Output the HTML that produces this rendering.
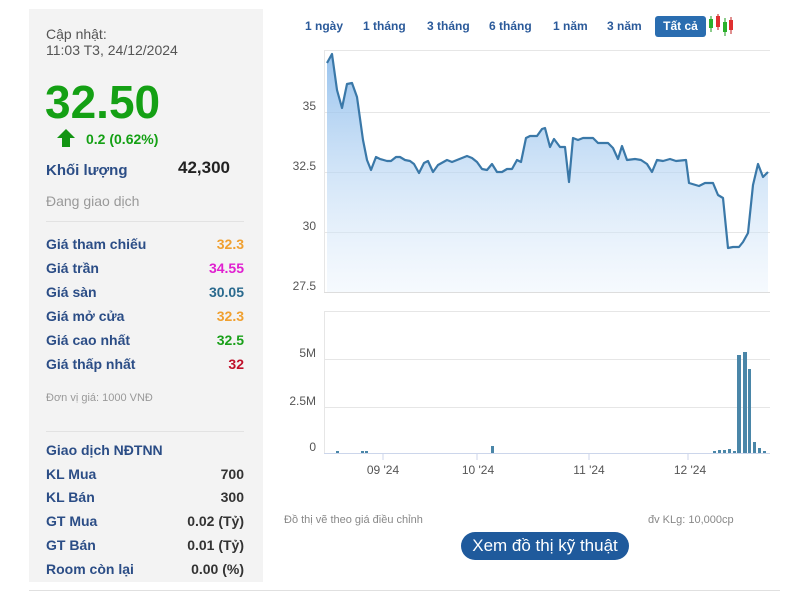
<!DOCTYPE html>
<html><head><meta charset="utf-8"><style>
body{margin:0;width:800px;height:600px;background:#fff;font-family:"Liberation Sans",sans-serif;position:relative;overflow:hidden}
.a{position:absolute;white-space:nowrap}
.p{position:absolute;left:29px;top:9px;width:234px;height:573px;background:#f3f3f3}
.l{left:46px;font-size:14px;font-weight:bold;color:#2b4d86}
.v{right:556px;font-size:14px;font-weight:bold;text-align:right}
.sep{position:absolute;left:46px;width:198px;height:1px;background:#e2e2e2}
.b{font-size:12px;font-weight:bold;color:#2b5a9a;top:19px}
</style></head><body>
<div class="p"></div>
<div class="a" style="left:46px;top:26px;font-size:14px;color:#555;line-height:16px">Cập nhật:<br>11:03 T3, 24/12/2024</div>
<div class="a" style="left:45px;top:78px;font-size:46px;font-weight:bold;color:#14a014;line-height:48px">32.50</div>
<svg class="a" style="left:56px;top:128px" width="20" height="20"><path d="M10 1 L19 10 L14 10 L14 19 L6 19 L6 10 L1 10Z" fill="#129412"/></svg>
<div class="a" style="left:86px;top:131px;font-size:14px;font-weight:bold;color:#14a014">0.2 (0.62%)</div>
<div class="a l" style="top:162px;font-size:15px">Khối lượng</div>
<div class="a" style="left:178px;top:158px;font-size:17px;font-weight:bold;color:#222">42,300</div>
<div class="a" style="left:46px;top:193px;font-size:14px;color:#999">Đang giao dịch</div>
<div class="sep" style="top:221px"></div>
<div class="a l" style="top:236px">Giá tham chiếu</div><div class="a v" style="top:236px;color:#f0a030">32.3</div>
<div class="a l" style="top:260px">Giá trần</div><div class="a v" style="top:260px;color:#e020d0">34.55</div>
<div class="a l" style="top:284px">Giá sàn</div><div class="a v" style="top:284px;color:#2a6a8e">30.05</div>
<div class="a l" style="top:308px">Giá mở cửa</div><div class="a v" style="top:308px;color:#f0a030">32.3</div>
<div class="a l" style="top:332px">Giá cao nhất</div><div class="a v" style="top:332px;color:#1aa01a">32.5</div>
<div class="a l" style="top:356px">Giá thấp nhất</div><div class="a v" style="top:356px;color:#c0102a">32</div>
<div class="a" style="left:46px;top:392px;font-size:11px;color:#999">Đơn vị giá: 1000 VNĐ</div>
<div class="sep" style="top:431px"></div>
<div class="a l" style="top:442px">Giao dịch NĐTNN</div>
<div class="a l" style="top:466px">KL Mua</div><div class="a v" style="top:466px;color:#333">700</div>
<div class="a l" style="top:489px">KL Bán</div><div class="a v" style="top:489px;color:#333">300</div>
<div class="a l" style="top:513px">GT Mua</div><div class="a v" style="top:513px;color:#333">0.02 (Tỷ)</div>
<div class="a l" style="top:537px">GT Bán</div><div class="a v" style="top:537px;color:#333">0.01 (Tỷ)</div>
<div class="a l" style="top:561px">Room còn lại</div><div class="a v" style="top:561px;color:#333">0.00 (%)</div>
<div class="a" style="left:29px;top:590px;width:751px;height:1px;background:#e0e0e0"></div>

<div class="a b" style="left:305px">1 ngày</div>
<div class="a b" style="left:363px">1 tháng</div>
<div class="a b" style="left:427px">3 tháng</div>
<div class="a b" style="left:489px">6 tháng</div>
<div class="a b" style="left:553px">1 năm</div>
<div class="a b" style="left:607px">3 năm</div>
<div class="a" style="left:655px;top:16px;width:51px;height:21px;background:#2a6db0;border-radius:3px;color:#fff;font-size:12px;font-weight:bold;text-align:center;line-height:21px">Tất cả</div>
<svg class="a" style="left:708px;top:14px" width="26" height="22">
<line x1="3" y1="2" x2="3" y2="18" stroke="#1a9a1a"/><rect x="1" y="5" width="4" height="9" fill="#2ab02a"/>
<line x1="10" y1="0" x2="10" y2="16" stroke="#c02020"/><rect x="8" y="2" width="4" height="11" fill="#e03030"/>
<line x1="17" y1="4" x2="17" y2="22" stroke="#1a9a1a"/><rect x="15" y="8" width="4" height="10" fill="#2ab02a"/>
<line x1="23" y1="3" x2="23" y2="20" stroke="#c02020"/><rect x="21" y="6" width="4" height="10" fill="#e03030"/>
</svg>

<svg class="a" style="left:0;top:0" width="800" height="600">
<defs><linearGradient id="g" x1="0" y1="0" x2="0" y2="1"><stop offset="0" stop-color="#86b8ea" stop-opacity=".85"/><stop offset="1" stop-color="#e8f2fc" stop-opacity=".4"/></linearGradient></defs>
<g stroke="#e6e6e6" stroke-width="1">
<line x1="324" y1="50.5" x2="770" y2="50.5"/>
<line x1="324" y1="112.5" x2="770" y2="112.5"/>
<line x1="324" y1="172.5" x2="770" y2="172.5"/>
<line x1="324" y1="232.5" x2="770" y2="232.5"/>
<line x1="324" y1="311.5" x2="770" y2="311.5"/>
<line x1="324" y1="359.5" x2="770" y2="359.5"/>
<line x1="324" y1="407.5" x2="770" y2="407.5"/>
<line x1="324.5" y1="50" x2="324.5" y2="292"/>
<line x1="324.5" y1="311" x2="324.5" y2="453"/>
</g>
<line x1="324" y1="292.5" x2="770" y2="292.5" stroke="#ddd"/>
<line x1="324" y1="453.5" x2="770" y2="453.5" stroke="#ccd6eb"/>
<g stroke="#ccd6eb"><line x1="383" y1="453" x2="383" y2="460"/><line x1="477" y1="453" x2="477" y2="460"/><line x1="589" y1="453" x2="589" y2="460"/><line x1="688" y1="453" x2="688" y2="460"/></g>
<path d="M327 63 L332 54 L337 90 L342 108 L347 84 L352 83 L357 97 L363 140 L367 160 L371 170 L376 157 L380 159 L387 161 L391 161 L396 157 L400 157 L405 160 L410 161 L414 164 L419 173 L424 163 L428 161 L433 172 L438 165 L447 160 L452 162 L457 160 L467 156 L472 158 L477 162 L482 169 L487 170 L492 164 L497 172 L502 172 L507 169 L512 169 L517 160 L521 162 L526 138 L530 136 L537 136 L542 129 L545 128 L550 147 L554 139 L560 147 L565 147 L569 182 L573 138 L578 140 L583 138 L593 138 L598 143 L608 143 L613 148 L618 159 L622 146 L627 160 L635 159 L641 160 L647 164 L652 172 L657 160 L663 161 L670 159 L676 161 L686 160 L689 183 L699 186 L705 183 L713 183 L718 195 L723 198 L728 248 L733 247 L739 247 L743 242 L748 233 L753 185 L758 164 L763 177 L768 172 L768 292 L327 292Z" fill="url(#g)"/>
<path d="M327 63 L332 54 L337 90 L342 108 L347 84 L352 83 L357 97 L363 140 L367 160 L371 170 L376 157 L380 159 L387 161 L391 161 L396 157 L400 157 L405 160 L410 161 L414 164 L419 173 L424 163 L428 161 L433 172 L438 165 L447 160 L452 162 L457 160 L467 156 L472 158 L477 162 L482 169 L487 170 L492 164 L497 172 L502 172 L507 169 L512 169 L517 160 L521 162 L526 138 L530 136 L537 136 L542 129 L545 128 L550 147 L554 139 L560 147 L565 147 L569 182 L573 138 L578 140 L583 138 L593 138 L598 143 L608 143 L613 148 L618 159 L622 146 L627 160 L635 159 L641 160 L647 164 L652 172 L657 160 L663 161 L670 159 L676 161 L686 160 L689 183 L699 186 L705 183 L713 183 L718 195 L723 198 L728 248 L733 247 L739 247 L743 242 L748 233 L753 185 L758 164 L763 177 L768 172" fill="none" stroke="#3a78a8" stroke-width="2.2" stroke-linejoin="round"/>
<g fill="#4a86a8">
<rect x="336" y="451" width="3" height="2"/><rect x="361" y="451" width="3" height="2"/><rect x="365" y="451" width="3" height="2"/>
<rect x="491" y="446" width="3" height="7"/>
<rect x="713" y="451" width="3" height="2"/><rect x="718" y="450" width="3" height="3"/><rect x="723" y="450" width="3" height="3"/><rect x="728" y="449" width="3" height="4"/><rect x="733" y="451" width="3" height="2"/>
<rect x="737" y="355" width="4" height="98"/><rect x="743" y="352" width="4" height="101"/><rect x="748" y="369" width="3" height="84"/>
<rect x="753" y="442" width="3" height="11"/><rect x="758" y="448" width="3" height="5"/><rect x="763" y="451" width="3" height="2"/>
</g>
<g font-family="Liberation Sans" font-size="12" fill="#555" text-anchor="end">
<text x="316" y="110">35</text><text x="316" y="170">32.5</text><text x="316" y="230">30</text><text x="316" y="290">27.5</text>
<text x="316" y="357">5M</text><text x="316" y="405">2.5M</text><text x="316" y="451">0</text>
</g>
<g font-family="Liberation Sans" font-size="12" fill="#555" text-anchor="middle">
<text x="383" y="474">09 '24</text><text x="478" y="474">10 '24</text><text x="589" y="474">11 '24</text><text x="690" y="474">12 '24</text>
</g>
</svg>
<div class="a" style="left:284px;top:514px;font-size:11px;color:#888">Đồ thị vẽ theo giá điều chỉnh</div>
<div class="a" style="left:648px;top:514px;font-size:11px;color:#888">đv KLg: 10,000cp</div>
<div class="a" style="left:461px;top:532px;width:168px;height:28px;border-radius:14px;background:#1f5a9c;color:#fff;font-size:17px;text-align:center;line-height:28px">Xem đồ thị kỹ thuật</div>
</body></html>
